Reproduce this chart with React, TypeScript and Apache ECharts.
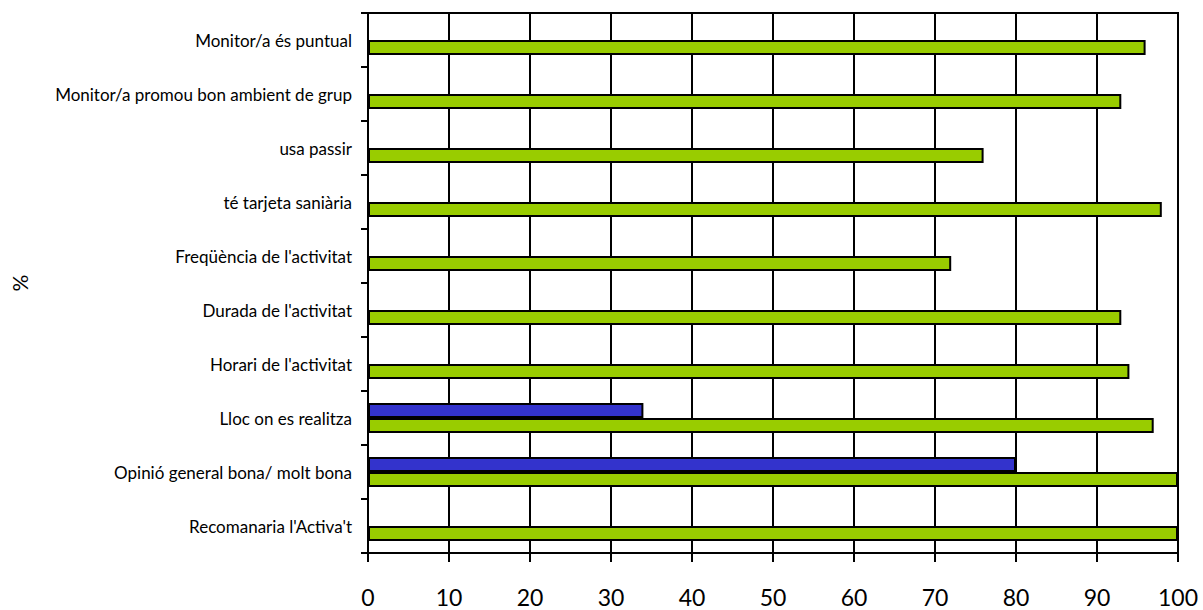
import React, { useEffect, useRef } from "react";
import * as echarts from "echarts";

const categories = [
  "Recomanaria l'Activa't",
  "Opinió general bona/ molt bona",
  "Lloc on es realitza",
  "Horari de l'activitat",
  "Durada de l'activitat",
  "Freqüència de l'activitat",
  "té tarjeta saniària",
  "usa passir",
  "Monitor/a promou bon ambient de grup",
  "Monitor/a és puntual",
];
const blueValues = [null, 80, 34, null, null, null, null, null, null, null];
const greenValues = [100, 100, 97, 94, 93, 72, 98, 76, 93, 96];
const xTicks = [0, 10, 20, 30, 40, 50, 60, 70, 80, 90, 100];

export default function App() {
  const ref = useRef<HTMLDivElement>(null);
  useEffect(() => {
    document.body.style.margin = "0";
    const chart = echarts.init(ref.current!, null, { renderer: "svg" });
    const font = "Lato, 'Open Sans', sans-serif";
    chart.setOption({
      animation: false,
      backgroundColor: "#ffffff",
      textStyle: { fontFamily: font },
      grid: {
        left: 368,
        right: 25,
        top: 13,
        bottom: 57,
        containLabel: false,
        outerBoundsMode: "none",
        show: true,
        borderColor: "#000",
        borderWidth: 2,
        backgroundColor: "transparent",
      },
      xAxis: {
        type: "value",
        min: xTicks[0],
        max: xTicks[xTicks.length - 1],
        interval: 10,
        axisLine: { show: true, lineStyle: { color: "#000", width: 2 } },
        axisTick: { show: true, length: 9, lineStyle: { color: "#000", width: 2 } },
        splitLine: { show: true, lineStyle: { color: "#000", width: 2 } },
        axisLabel: { color: "#000", fontSize: 23, margin: 32, fontFamily: font },
      },
      yAxis: {
        type: "category",
        data: categories,
        name: "%",
        nameLocation: "middle",
        nameRotate: 90,
        nameGap: 338,
        nameTextStyle: { color: "#000", fontSize: 21, fontFamily: font },
        axisLine: { show: true, lineStyle: { color: "#000", width: 2 } },
        axisTick: { show: true, length: 7, lineStyle: { color: "#000", width: 2 } },
        splitLine: { show: false },
        axisLabel: { color: "#000", fontSize: 17, margin: 16, fontFamily: font },
      },
      series: [
        {
          type: "bar",
          data: blueValues,
          barWidth: 15,
          barGap: "0%",
          itemStyle: { color: "#3333CC", borderColor: "#000", borderWidth: 2 },
        },
        {
          type: "bar",
          data: greenValues,
          barWidth: 15,
          barGap: "0%",
          itemStyle: { color: "#99CC00", borderColor: "#000", borderWidth: 2 },
        },
      ],
    });
    return () => chart.dispose();
  }, []);
  return <div ref={ref} style={{ width: 1203, height: 610 }} />;
}
